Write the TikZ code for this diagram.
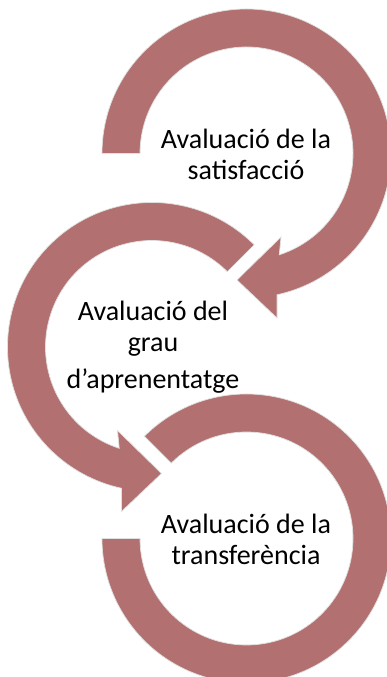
\documentclass[tikz,border=0pt]{standalone}
\usepackage{fontspec}
\setmainfont{Carlito}
\definecolor{ringred}{HTML}{B27170}
\tikzset{
  ring/.style={fill=ringred, draw=black!12, line width=0.7pt, line join=miter},
  label/.style={align=center, inner sep=0pt, text=black, font=\fontsize{28}{31}\selectfont}
}
\begin{document}
\begin{tikzpicture}[x=1pt,y=1pt]
\useasboundingbox (0,0) rectangle (387,677);
\clip (0,0) rectangle (387,677);
% ring 1 (top), centre (246.5,523.5)
\begin{scope}[shift={(246.5,523.5)}]
  \path[ring] (180:144.5) arc[start angle=180, end angle=-77.8, radius=144.5]
    -- (30.5,-164.5) -- (-9.5,-126.5) -- (34.5,-83.5) -- (-72.1:106.5)
    arc[start angle=-72.1, end angle=180, radius=106.5] -- cycle;
\end{scope}
% ring 2 (middle), centre (152,330)
\begin{scope}[shift={(152,330)}]
  \path[ring] (45:144.5) arc[start angle=45, end angle=257.8, radius=144.5]
    -- (-30.5,-164.5) -- (9.5,-126.5) -- (-34.5,-83.5) -- (252.1:106.5)
    arc[start angle=252.1, end angle=45, radius=106.5] -- cycle;
\end{scope}
% ring 3 (bottom), centre (246.5,138.5)
\begin{scope}[shift={(246.5,138.5)}]
  \path[ring] (135:144.5) arc[start angle=135, end angle=-180, radius=144.5]
    -- (180:106.5) arc[start angle=-180, end angle=135, radius=106.5] -- cycle;
\end{scope}
\node[label] (t1) at (246,523) {Avaluació de la\\satisfacció};
\node[label] (t2) at (153,330) {Avaluació del\\grau\\[6pt]d’aprenentatge};
\node[label] (t3) at (246,138) {Avaluació de la\\transferència};
\end{tikzpicture}
\end{document}
